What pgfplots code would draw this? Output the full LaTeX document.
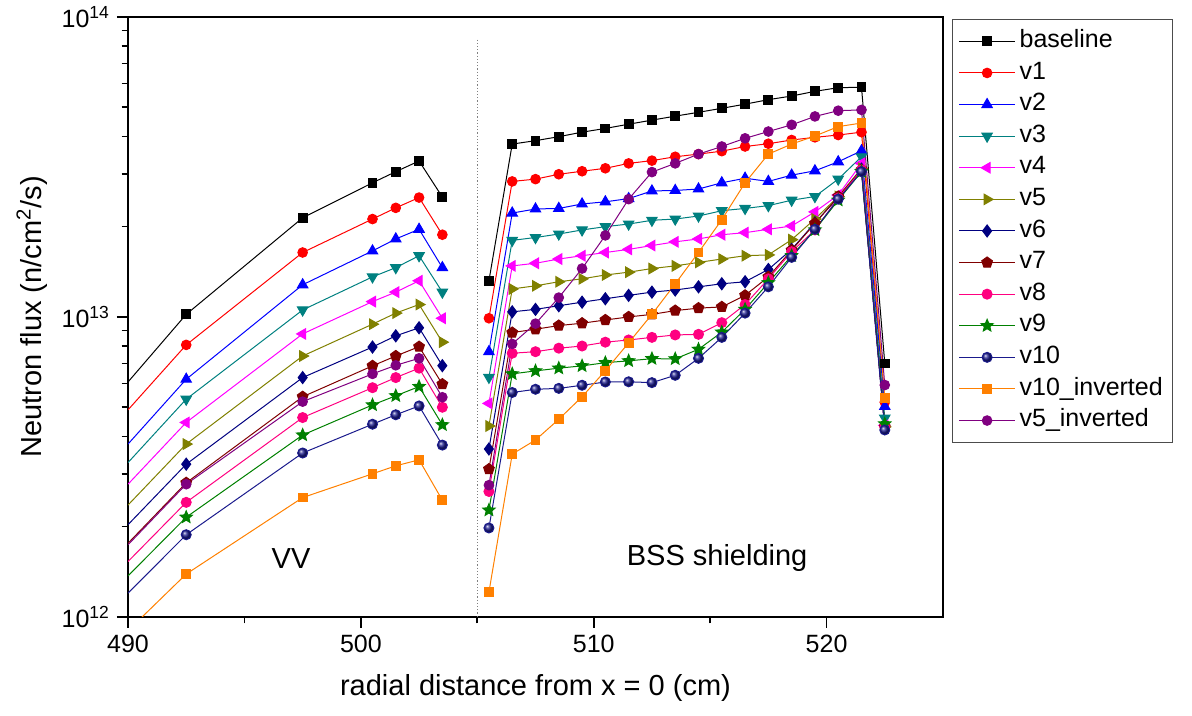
\documentclass[border=0pt]{standalone}
\usepackage{pgfplots}
\usepackage{pgfplotstable}
\pgfplotsset{compat=1.18}
\usepackage{fontspec}
\setmainfont{Liberation Sans}
\usetikzlibrary{plotmarks}
\definecolor{cv1}{HTML}{FF0000}
\definecolor{cv2}{HTML}{0000FF}
\definecolor{cv3}{HTML}{008080}
\definecolor{cv4}{HTML}{FF00FF}
\definecolor{cv5}{HTML}{808000}
\definecolor{cv6}{HTML}{000080}
\definecolor{cv7}{HTML}{800000}
\definecolor{cv8}{HTML}{FF0080}
\definecolor{cv9}{HTML}{008000}
\definecolor{cv10}{HTML}{1A1A8C}
\definecolor{cv10i}{HTML}{FF8000}
\definecolor{cv5i}{HTML}{800080}
\pgfdeclareplotmark{fstar}{%
  \pgfpathmoveto{\pgfpointpolar{90}{\pgfplotmarksize}}%
  \pgfpathlineto{\pgfpointpolar{126}{0.45\pgfplotmarksize}}%
  \pgfpathlineto{\pgfpointpolar{162}{\pgfplotmarksize}}%
  \pgfpathlineto{\pgfpointpolar{198}{0.45\pgfplotmarksize}}%
  \pgfpathlineto{\pgfpointpolar{234}{\pgfplotmarksize}}%
  \pgfpathlineto{\pgfpointpolar{270}{0.45\pgfplotmarksize}}%
  \pgfpathlineto{\pgfpointpolar{306}{\pgfplotmarksize}}%
  \pgfpathlineto{\pgfpointpolar{342}{0.45\pgfplotmarksize}}%
  \pgfpathlineto{\pgfpointpolar{18}{\pgfplotmarksize}}%
  \pgfpathlineto{\pgfpointpolar{54}{0.45\pgfplotmarksize}}%
  \pgfpathclose
  \pgfusepathqfillstroke
}
% line entering from the left border (no marks)
\pgfplotstableread{
x     base    v1      v2      v3      v4      v5      v6      v7      v8      v9      v10     v10i    v5i
490   6.07e12 4.9e12  3.77e12 3.27e12 2.77e12 2.36e12 2.03e12 1.76e12 1.53e12 1.37e12 1.2e12  9.0e11  1.74e12
492.5 1.02e13 8.07e12 6.2e12  5.32e12 4.45e12 3.77e12 3.23e12 2.80e12 2.41e12 2.15e12 1.88e12 1.39e12 2.77e12
}\edgedata
\pgfplotstableread{
x     base    v1      v2      v3      v4      v5      v6      v7      v8      v9      v10     v10i    v5i
492.5 1.02e13 8.07e12 6.2e12  5.32e12 4.45e12 3.77e12 3.23e12 2.80e12 2.41e12 2.15e12 1.88e12 1.39e12 2.77e12
497.5 2.14e13 1.64e13 1.28e13 1.055e13 8.78e12 7.41e12 6.28e12 5.42e12 4.62e12 4.04e12 3.52e12 2.50e12 5.22e12
500.5 2.80e13 2.12e13 1.66e13 1.36e13 1.125e13 9.46e12 7.94e12 6.87e12 5.81e12 5.09e12 4.39e12 3.0e12 6.46e12
501.5 3.05e13 2.31e13 1.82e13 1.46e13 1.21e13 1.03e13 8.65e12 7.41e12 6.28e12 5.46e12 4.72e12 3.19e12 6.9e12
502.5 3.31e13 2.50e13 1.96e13 1.60e13 1.32e13 1.10e13 9.2e12  7.96e12 6.75e12 5.86e12 5.05e12 3.34e12 7.28e12
503.5 2.51e13 1.88e13 1.46e13 1.21e13 9.9e12  8.24e12 6.88e12 5.97e12 5.0e12  4.37e12 3.74e12 2.45e12 5.40e12
504.5 nan     nan     nan     nan     nan     nan     nan     nan     nan     nan     nan     nan     nan
505.5 1.32e13 9.9e12  7.66e12 6.29e12 5.15e12 4.33e12 3.63e12 3.11e12 2.62e12 2.27e12 1.98e12 1.21e12 2.75e12
506.5 3.77e13 2.83e13 2.22e13 1.80e13 1.48e13 1.24e13 1.04e13 8.87e12 7.57e12 6.46e12 5.6e12  3.49e12 8.13e12
507.5 3.87e13 2.88e13 2.29e13 1.84e13 1.51e13 1.27e13 1.06e13 9.1e12  7.66e12 6.61e12 5.74e12 3.89e12 9.5e12
508.5 3.99e13 2.99e13 2.30e13 1.89e13 1.56e13 1.31e13 1.09e13 9.36e12 7.87e12 6.75e12 5.78e12 4.56e12 1.16e13
509.5 4.13e13 3.06e13 2.38e13 1.95e13 1.60e13 1.34e13 1.12e13 9.53e12 8.0e12  6.87e12 5.92e12 5.42e12 1.45e13
510.5 4.25e13 3.13e13 2.42e13 2.0e13  1.64e13 1.38e13 1.15e13 9.77e12 8.24e12 7.04e12 6.07e12 6.62e12 1.87e13
511.5 4.39e13 3.25e13 2.48e13 2.04e13 1.68e13 1.41e13 1.18e13 1.0e13  8.38e12 7.14e12 6.08e12 8.2e12  2.47e13
512.5 4.53e13 3.32e13 2.63e13 2.10e13 1.73e13 1.45e13 1.21e13 1.02e13 8.55e12 7.26e12 6.04e12 1.02e13 3.04e13
513.5 4.67e13 3.42e13 2.64e13 2.12e13 1.78e13 1.48e13 1.23e13 1.05e13 8.71e12 7.25e12 6.39e12 1.29e13 3.25e13
514.5 4.81e13 3.49e13 2.67e13 2.17e13 1.82e13 1.52e13 1.26e13 1.07e13 8.75e12 7.8e12  7.28e12 1.64e13 3.49e13
515.5 4.96e13 3.57e13 2.80e13 2.26e13 1.88e13 1.56e13 1.29e13 1.08e13 9.57e12 8.9e12  8.55e12 2.11e13 3.70e13
516.5 5.12e13 3.70e13 2.90e13 2.30e13 1.91e13 1.60e13 1.31e13 1.18e13 1.10e13 1.06e13 1.03e13 2.80e13 3.94e13
517.5 5.30e13 3.78e13 2.83e13 2.35e13 1.96e13 1.61e13 1.44e13 1.36e13 1.34e13 1.3e13  1.26e13 3.49e13 4.15e13
518.5 5.45e13 3.89e13 2.97e13 2.45e13 2.01e13 1.81e13 1.68e13 1.67e13 1.65e13 1.6e13  1.58e13 3.77e13 4.37e13
519.5 5.65e13 3.97e13 3.07e13 2.52e13 2.24e13 2.12e13 2.06e13 2.05e13 1.95e13 1.95e13 1.96e13 4.01e13 4.66e13
520.5 5.81e13 4.04e13 3.29e13 2.88e13 2.55e13 2.52e13 2.50e13 2.52e13 2.49e13 2.45e13 2.47e13 4.31e13 4.87e13
521.5 5.83e13 4.13e13 3.58e13 3.42e13 3.25e13 3.13e13 3.11e13 3.09e13 3.09e13 3.05e13 3.05e13 4.43e13 4.90e13
522.5 7.0e12  5.2e12  5.03e12 4.6e12  4.35e12 4.3e12  4.3e12  4.3e12  4.3e12  4.4e12  4.2e12  5.37e12 5.93e12
}\fluxdata
\begin{document}
\begin{tikzpicture}
\useasboundingbox (-64pt,-49.5pt) rectangle (532pt,308.5pt);
\begin{axis}[
  at={(0pt,0pt)}, anchor=south west,
  scale only axis, width=407.5pt, height=300pt,
  xmin=490, xmax=525, ymode=log, ymin=1e12, ymax=1e14,
  xtick={490,500,510,520}, minor xtick={495,505,515},
  ytick={1e12,1e13,1e14},
  yticklabels={10\textsuperscript{12},10\textsuperscript{13},10\textsuperscript{14}},
  minor ytick={2e12,3e12,4e12,5e12,6e12,7e12,8e12,9e12,2e13,3e13,4e13,5e13,6e13,7e13,8e13,9e13},
  tick pos=left, tick align=outside,
  major tick length=5.5pt, minor tick length=3.2pt,
  axis line style={line width=1pt},
  every tick/.style={black, line width=0.8pt},
  ticklabel style={font=\fontsize{12.5}{14}\selectfont},
  xticklabel style={/pgf/number format/assume math mode=true, /pgf/number format/1000 sep={}},
  xlabel={radial distance from x = 0 (cm)},
  ylabel={Neutron flux (n/cm\textsuperscript{2}/s)},
  label style={font=\fontsize{14.5}{16}\selectfont},
  xlabel style={at={(axis description cs:0.5,-0.118)}, anchor=center},
  ylabel style={at={(axis description cs:-0.118,0.5)}, anchor=center},
  unbounded coords=jump,
  every axis plot/.append style={line width=0.5pt},
  legend image code/.code={\draw[mark repeat=2,mark phase=2,#1] plot coordinates {(0pt,0pt) (14pt,0pt) (28pt,0pt)};},
  legend cell align=left,
  legend style={at={(1,1)}, anchor=north west, xshift=4.5pt, yshift=-1pt,
    draw=black!70, line width=0.6pt, font=\fontsize{12.5}{14}\selectfont,
    row sep=0pt, inner xsep=3pt, inner ysep=3pt,
    nodes={text height=9pt, text depth=2.8pt, inner sep=2pt}},
]
\draw[densely dotted, gray, line width=0.6pt] (axis cs:505,8.4e13) -- (axis cs:505,1e12);
\addplot[color=black, mark=square*, mark size=2.2pt] table[x=x,y=base]{\fluxdata};
\addplot[color=cv1, mark=*, mark size=2.4pt] table[x=x,y=v1]{\fluxdata};
\addplot[color=cv2, mark=triangle*, mark size=3pt] table[x=x,y=v2]{\fluxdata};
\addplot[color=cv3, mark=triangle*, mark size=3pt, mark options={rotate=180}] table[x=x,y=v3]{\fluxdata};
\addplot[color=cv4, mark=triangle*, mark size=3pt, mark options={rotate=90}] table[x=x,y=v4]{\fluxdata};
\addplot[color=cv5, mark=triangle*, mark size=3pt, mark options={rotate=-90}] table[x=x,y=v5]{\fluxdata};
\addplot[color=cv6, mark=diamond*, mark size=3pt] table[x=x,y=v6]{\fluxdata};
\addplot[color=cv7, mark=pentagon*, mark size=2.8pt] table[x=x,y=v7]{\fluxdata};
\addplot[color=cv8, mark=*, mark size=2.5pt] table[x=x,y=v8]{\fluxdata};
\addplot[color=cv9, mark=fstar, mark size=3.2pt] table[x=x,y=v9]{\fluxdata};
\addplot[color=cv10, mark=ball, mark size=2.5pt, mark options={ball color=cv10}] table[x=x,y=v10]{\fluxdata};
\addplot[color=cv10i, mark=square*, mark size=2.2pt] table[x=x,y=v10i]{\fluxdata};
\addplot[color=cv5i, mark=*, mark size=2.4pt] table[x=x,y=v5i]{\fluxdata};
\legend{baseline,v1,v2,v3,v4,v5,v6,v7,v8,v9,v10,v10\_inverted,v5\_inverted}
\addplot[forget plot, color=black, no marks] table[x=x,y=base]{\edgedata};
\addplot[forget plot, color=cv1, no marks] table[x=x,y=v1]{\edgedata};
\addplot[forget plot, color=cv2, no marks] table[x=x,y=v2]{\edgedata};
\addplot[forget plot, color=cv3, no marks] table[x=x,y=v3]{\edgedata};
\addplot[forget plot, color=cv4, no marks] table[x=x,y=v4]{\edgedata};
\addplot[forget plot, color=cv5, no marks] table[x=x,y=v5]{\edgedata};
\addplot[forget plot, color=cv6, no marks] table[x=x,y=v6]{\edgedata};
\addplot[forget plot, color=cv7, no marks] table[x=x,y=v7]{\edgedata};
\addplot[forget plot, color=cv8, no marks] table[x=x,y=v8]{\edgedata};
\addplot[forget plot, color=cv9, no marks] table[x=x,y=v9]{\edgedata};
\addplot[forget plot, color=cv10, no marks] table[x=x,y=v10]{\edgedata};
\addplot[forget plot, color=cv10i, no marks] table[x=x,y=v10i]{\edgedata};
\addplot[forget plot, color=cv5i, no marks] table[x=x,y=v5i]{\edgedata};
\node[font=\fontsize{14.5}{16}\selectfont] at (axis cs:497,1.57e12) {VV};
\node[font=\fontsize{14.5}{16}\selectfont] at (axis cs:515.3,1.57e12) {BSS shielding};
\end{axis}
\end{tikzpicture}
\end{document}
